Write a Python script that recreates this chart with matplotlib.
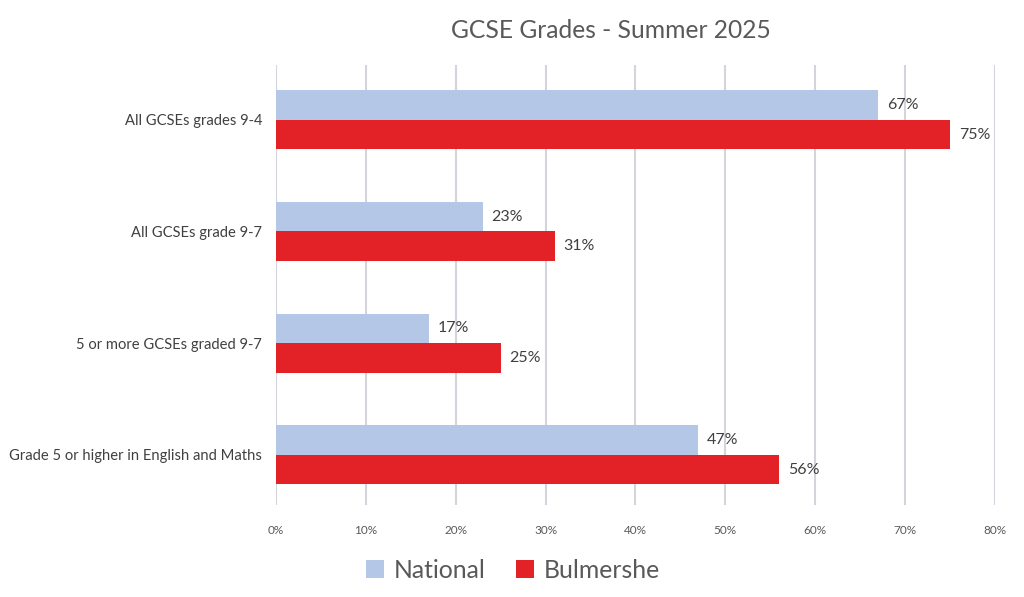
import numpy as np
import matplotlib
matplotlib.use("Agg")
import matplotlib.pyplot as plt
from matplotlib.ticker import PercentFormatter

categories = ["All GCSEs grades 9-4", "All GCSEs grade 9-7",
              "5 or more GCSEs graded 9-7", "Grade 5 or higher in English and Maths"]
national = [67, 23, 17, 47]
bulmershe = [75, 31, 25, 56]

plt.rcParams['font.family'] = ['Lato', 'DejaVu Sans']

fig = plt.figure(figsize=(10.24, 5.97), dpi=100)
ax = fig.add_axes([0.2695, 0.154, 0.702, 0.737])

y = np.arange(len(categories))
h = 0.265
b1 = ax.barh(y - h / 2, national, height=h, color='#b4c7e7', label='National', zorder=3)
b2 = ax.barh(y + h / 2, bulmershe, height=h, color='#e32227', label='Bulmershe', zorder=3)

for bars, vals in ((b1, national), (b2, bulmershe)):
    for bar, v in zip(bars, vals):
        ax.text(v + 1.0, bar.get_y() + bar.get_height() / 2, f"{v}%",
                va='center', ha='left', fontsize=11.5, color='#404040')

ax.set_xlim(0, 80)
ax.set_ylim(3.45, -0.49)
ax.set_xticks(range(0, 81, 10))
ax.xaxis.set_major_formatter(PercentFormatter(decimals=0))
ax.set_yticks(y)
ax.set_yticklabels(categories)
ax.tick_params(axis='x', length=0, labelsize=8.5, labelcolor='#595959', pad=14)
ax.tick_params(axis='y', length=0, labelsize=10.6, labelcolor='#404040', pad=10)
ax.grid(axis='x', color='#d4d4dc', linewidth=1.5, zorder=0)
for s in ax.spines.values():
    s.set_visible(False)

fig.suptitle("GCSE Grades - Summer 2025", x=0.597, y=0.968, fontsize=17.7, color='#595959')

fig.legend(handles=[b1, b2], loc='lower center', bbox_to_anchor=(0.501, -0.012), ncol=2,
           frameon=False, fontsize=17.8, labelcolor='#595959', handlelength=0.75,
           handleheight=0.75, handletextpad=0.4, columnspacing=1.2)

fig.savefig("out.png", dpi=100)
